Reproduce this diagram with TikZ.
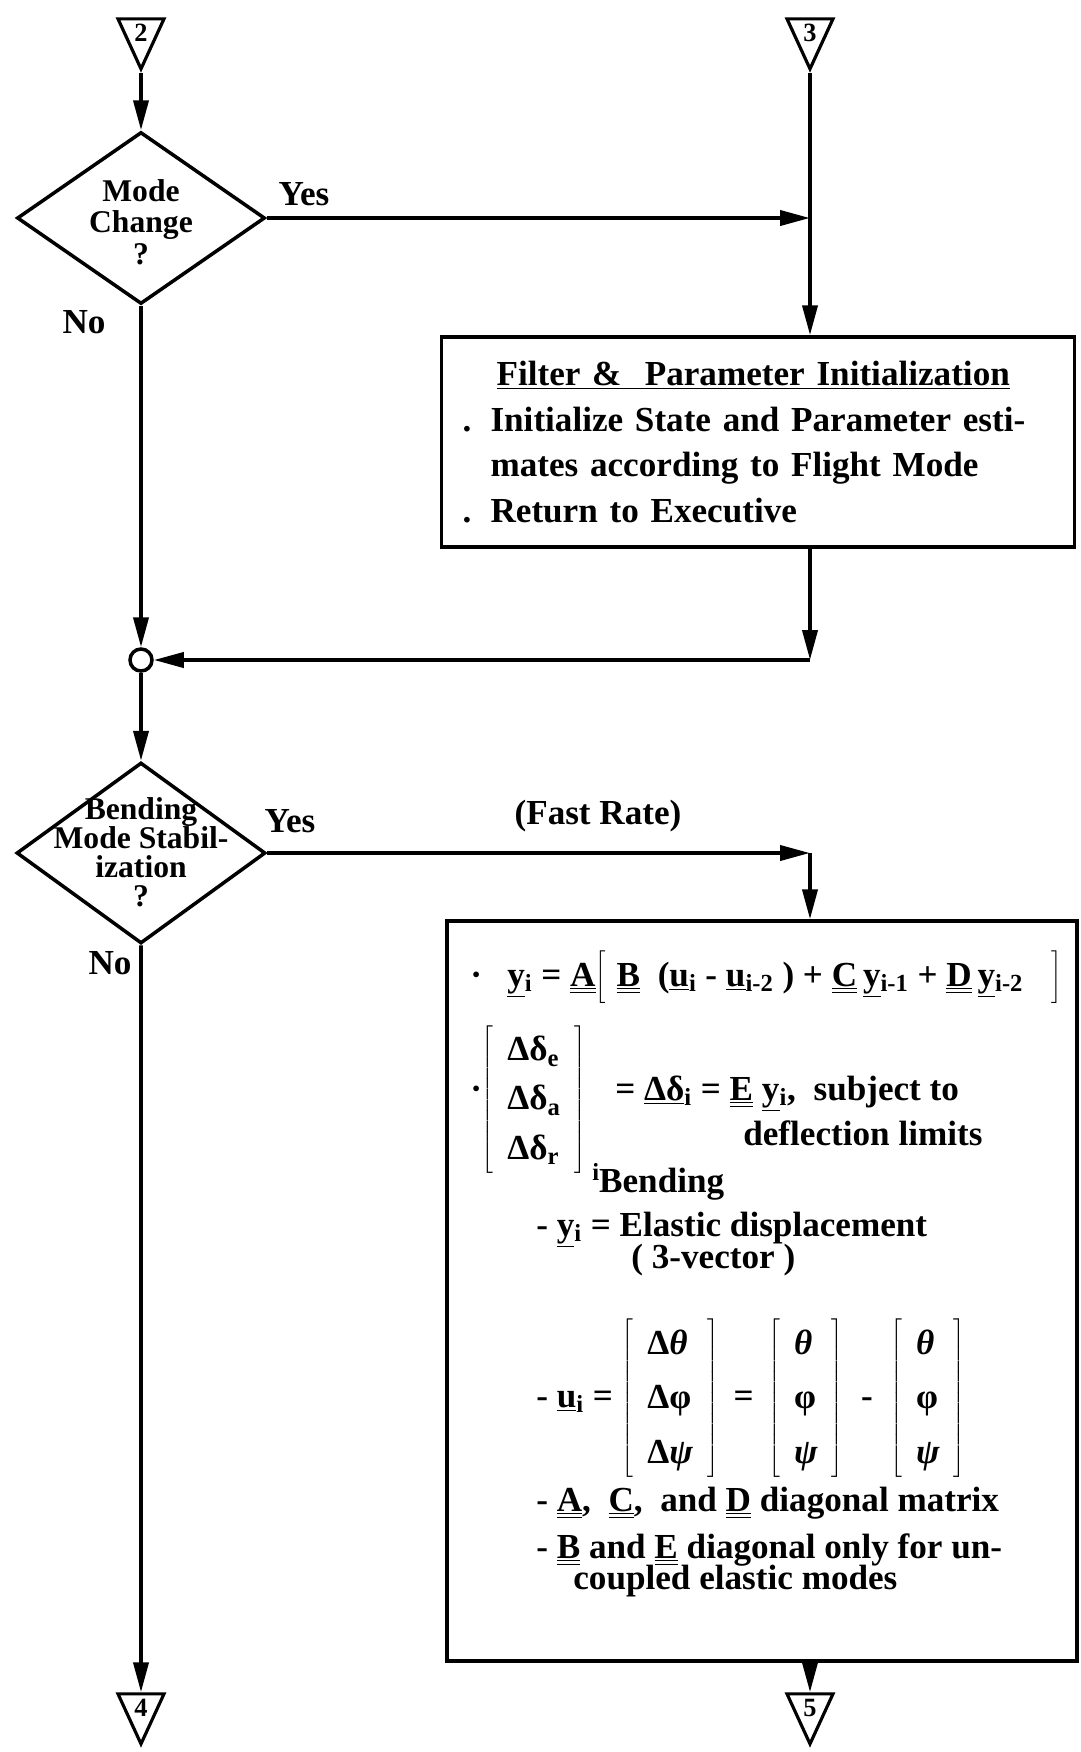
\documentclass[tikz,border=0pt]{standalone}
\usepackage{fontspec}
\setmainfont{Liberation Serif}
\usetikzlibrary{shapes.geometric, arrows.meta, positioning, calc}

\newcommand{\vect}[1]{\underline{#1}}
\newcommand{\matr}[1]{\underline{\underline{#1}}}
\newcommand{\tsub}[1]{\textsubscript{#1}}
\newcommand{\colvec}[4][1.35]{{\renewcommand{\arraystretch}{#1}$\left[\mbox{\begin{tabular}{@{\hspace{8pt}}l@{\hspace{8pt}}}#2\\#3\\#4\end{tabular}}\right]$}}

\begin{document}
\begin{tikzpicture}[x=0.02cm, y=-0.02cm,
    decision/.style={diamond, draw, line width=2pt, inner sep=0pt},
    dtext/.style={align=center, font=\bfseries\fontsize{18}{18}\selectfont, inner sep=0pt},
    procbox/.style={rectangle, draw, line width=2pt},
    conn/.style={isosceles triangle, isosceles triangle stretches, shape border rotate=270, draw, line width=1.8pt, minimum width=0.92cm, minimum height=1cm, inner sep=0pt, font=\bfseries\fontsize{15}{15}\selectfont},
    junc/.style={circle, draw, line width=2pt, minimum size=0.44cm, inner sep=0pt},
    arr/.style={-{Triangle[length=6mm,width=3mm]}, line width=2.2pt},
    lbl/.style={font=\bfseries\fontsize{20}{24}\selectfont, inner sep=0pt},
    txt/.style={font=\bfseries\fontsize{20}{26}\selectfont, anchor=base west, inner sep=0pt}
]
\useasboundingbox (0,0) rectangle (1080,1752);

% entry connectors
\node[conn, anchor=apex] (c2) at (141,73) {2};
\node[conn, anchor=apex] (c3) at (810,73) {3};

% first decision
\node[decision, minimum width=4.96cm, minimum height=3.44cm] (mode) at (141,218) {};
\node[dtext] (modetxt) at (141,222) {Mode\\Change\\?};
\node[lbl] (yes1) at (304,194) {Yes};
\node[lbl] (no1) at (84,322) {No};

\node[procbox, minimum width=12.66cm, minimum height=4.2cm, text width=11.82cm, inner xsep=0.42cm, align=left, font=\bfseries\fontsize{20}{26}\selectfont] (init) at (758,442) {\hspace*{0.68cm}\underline{Filter \&\ \ Parameter Initialization}\\
\makebox[0.56cm][l]{.}Initialize State and Parameter esti-\\
\hspace*{0.56cm}mates according to Flight Mode\\
\makebox[0.56cm][l]{.}Return to Executive};

\coordinate (j1) at (c3.apex |- mode.east);
\coordinate (t1) at (810,660);
\node[junc] (merge) at (141,660) {};

\draw[arr] (c2.apex) -- (mode.north);
\draw[arr] (mode.east) -- (j1);
\draw[arr] (c3.apex) -- (c3.apex |- init.north);
\draw[arr] (init.south -| t1) -- (t1);
\draw[arr] (t1) -- (merge);
\draw[arr] (mode.south) -- (merge);

% second decision
\node[decision, minimum width=4.98cm, minimum height=3.62cm] (bend) at (141,853) {};
\node[dtext, font=\bfseries\fontsize{18}{16.5}\selectfont] (bendtxt) at (141,852) {Bending\\Mode Stabil-\\ization\\?};
\node[lbl] (yes2) at (290,821) {Yes};
\node[lbl] (no2) at (110,963) {No};
\node[lbl] (rate) at (598,816) {(Fast Rate)};

\node[procbox, minimum width=12.6cm, minimum height=14.8cm] (fast) at (762,1291) {};

\coordinate (t2) at (c3.apex |- bend.east);
\draw[arr] (merge) -- (bend.north);
\draw[arr] (bend.east) -- (t2);
\draw[arr] (t2) -- (t2 |- fast.north);

% filter equations
\node[txt] (dot1) at (470,986) {·};
\node[txt] (eq1) at (507,986) {\vect{y}\tsub{i} = \matr{A}$\left[\vrule height19pt depth10pt width0pt\right.$\ \matr{B} \ (\vect{u}\tsub{i} - \vect{u}\tsub{i-2} ) + \matr{C}\,\vect{y}\tsub{i-1} + \matr{D}\,\vect{y}\tsub{i-2}\ \ \ $\left.\vrule height19pt depth10pt width0pt\right]$};
\node[txt] (dot2) at (470,1100) {·};
\node[inner sep=0pt, font=\bfseries\fontsize{20}{20}\selectfont] (dmat) at (534,1100) {\colvec[1.4]{Δδ\tsub{e}}{Δδ\tsub{a}}{Δδ\tsub{r}}};
\node[txt] (eq2) at (615,1100) {= \vect{Δδ}\tsub{i} = \matr{E} \vect{y}\tsub{i}, \ subject to};
\node[txt] (eq2b) at (743,1145) {deflection limits};
\node[txt] (ibend) at (592,1192) {\raisebox{0.7ex}{\fontsize{14}{14}\selectfont i}Bending};
\node[txt] (ydef) at (536,1236) {- \vect{y}\tsub{i} = Elastic displacement};
\node[txt] (ydef2) at (631,1268) {( 3-vector )};
\node[txt] (udef) at (536,1407) {- \vect{u}\tsub{i} = \colvec[1.2]{Δ\textit{θ}}{Δφ}{Δ\textit{ψ}} \,=\, \colvec[1.2]{\textit{θ}}{φ}{\textit{ψ}} \ - \ \colvec[1.2]{\textit{θ}}{φ}{\textit{ψ}}};
\node[txt] (diag1) at (536,1511) {- \matr{A}, \ \matr{C}, \ and \matr{D} diagonal matrix};
\node[txt] (diag2) at (536,1558) {- \matr{B} and \matr{E} diagonal only for un-};
\node[txt] (diag3) at (573,1589) {coupled elastic modes};

% exit connectors
\node[conn, anchor=apex] (c4) at (141,1748) {4};
\node[conn, anchor=apex] (c5) at (810,1748) {5};
\draw[arr] (bend.south) -- (c4);
\draw[arr] (fast.south -| c5.apex) -- (c5);
\end{tikzpicture}
\end{document}
